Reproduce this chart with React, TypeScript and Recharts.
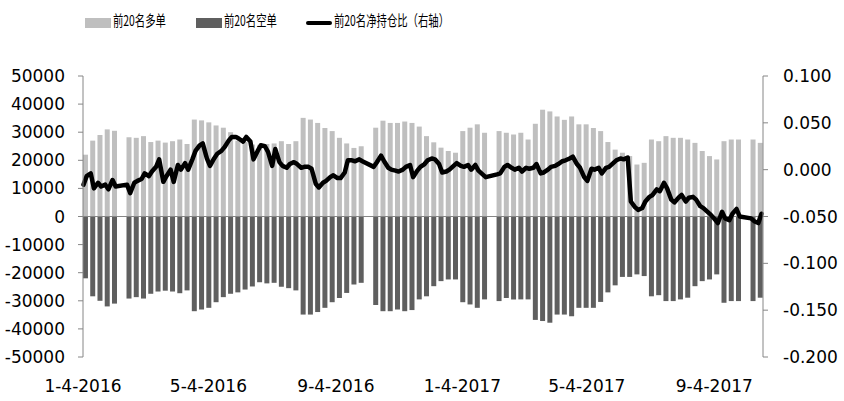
import { ComposedChart, Bar, Line, XAxis, YAxis, ReferenceLine } from 'recharts';

// weekly positions, week 0 starts 2016-01-04 (null = market closed that week)
const longPos = [
  22000, 27000, 29000, 31000, 30500, null, 28200, 28000, 28600, 26500,
  27000, 26300, 26800, 27400, 25800, 34500, 34200, 33500, 32400, 31600,
  30000, 27000, 26500, 25600, 25500, 25800, 26000, 26800, 25800, 26800,
  35100, 34500, 33300, 31500, 30400, 28000, 26000, 24400, 25000, null,
  31600, 34100, 33300, 33300, 33800, 33300, 32000, 28600, 26400, 24500,
  23300, 22700, 30400, 31600, 32800, 29800, null, 30400, 29800, 29200,
  29800, 27400, 33000, 38000, 37400, 35600, 34400, 35600, 32800, 32800,
  31500, 30400, 26500, 23800, 22700, 21500, 18500, 19100, 27400, 26800,
  28600, 28000, 28000, 27400, 26200, 23300, 21500, 20300, 26800, 27400,
  27400, null, 27400, 26200,
];

const shortNeg = [
  -22000, -28400, -30000, -32000, -31000, null, -29200, -28700, -29200, -27500,
  -26700, -26400, -26700, -27300, -26300, -33700, -33100, -32500, -30500, -28700,
  -27500, -27000, -26000, -24900, -23400, -23800, -23600, -25000, -25500, -26300,
  -34900, -34900, -34000, -32500, -30500, -29000, -27200, -24200, -23600, null,
  -31500, -33700, -33700, -33100, -33700, -33300, -29500, -28400, -24800, -23000,
  -22400, -22400, -30500, -31300, -32500, -29500, null, -30100, -29000, -29500,
  -29500, -29500, -36800, -37200, -37800, -34900, -34900, -35500, -32500, -32500,
  -32500, -30400, -27000, -24500, -21500, -21500, -20600, -21200, -28400, -28000,
  -30100, -30100, -29500, -28900, -24800, -23000, -22400, -20600, -30700, -30100,
  -30100, null, -30100, -28900,
];

// net ratio, two readings per week (Mon, Thu)
const netRatio = [
  -0.016, -0.007, -0.004, -0.020, -0.014, -0.018, -0.016, -0.021, -0.011, -0.018,
  null, null, -0.016, -0.025, -0.014, -0.012, -0.010, -0.004, -0.007, -0.002,
  0.003, 0.011, -0.013, -0.007, 0.000, -0.013, 0.005, 0.000, 0.007, 0.000,
  0.011, 0.020, 0.026, 0.028, 0.012, 0.004, 0.012, 0.017, 0.020, 0.024,
  0.031, 0.035, 0.035, 0.033, 0.030, 0.035, 0.030, 0.011, 0.020, 0.026,
  0.025, 0.019, 0.004, 0.022, 0.008, 0.004, 0.002, 0.006, 0.008, 0.006,
  0.002, 0.003, 0.003, 0.001, -0.015, -0.019, -0.014, -0.012, -0.008, -0.006,
  -0.009, -0.009, -0.003, 0.010, 0.010, 0.009, 0.011, 0.009, null, null,
  0.003, 0.008, 0.015, 0.009, 0.002, 0.000, -0.001, -0.002, 0.000, 0.003,
  0.005, -0.008, -0.001, 0.003, 0.006, 0.010, 0.012, 0.011, 0.006, -0.003,
  -0.002, 0.000, 0.004, 0.007, 0.004, 0.003, 0.005, 0.000, 0.005, -0.001,
  -0.005, -0.008, null, null, -0.005, -0.004, 0.003, 0.005, 0.002, 0.000,
  0.002, -0.002, 0.002, 0.001, 0.002, 0.006, -0.004, -0.003, 0.000, 0.003,
  0.004, 0.006, 0.009, 0.010, 0.012, 0.014, 0.006, 0.002, -0.008, -0.012,
  0.001, 0.000, 0.002, -0.004, 0.002, 0.003, 0.007, 0.010, 0.012, 0.011,
  0.013, -0.034, -0.040, -0.043, -0.041, -0.034, -0.029, -0.027, -0.021, -0.023,
  -0.014, -0.020, -0.032, -0.035, -0.030, -0.027, -0.034, -0.030, -0.029, -0.032,
  -0.039, -0.041, -0.045, -0.048, -0.053, -0.057, -0.045, -0.052, -0.054, -0.047,
  -0.042, -0.050, null, null, -0.052, -0.055, -0.057, -0.047,
];

// x axis is measured in days since 2016-01-04
const xTicks = [0, 121, 244, 366, 486, 609];
const xLabels = ['1-4-2016', '5-4-2016', '9-4-2016', '1-4-2017', '5-4-2017', '9-4-2017'];
const leftTicks = [-50000, -40000, -30000, -20000, -10000, 0, 10000, 20000, 30000, 40000, 50000];
const rightTicks = [-0.2, -0.15, -0.1, -0.05, 0, 0.05, 0.1];

const LONG_COLOR = '#BFBFBF';
const SHORT_COLOR = '#5F5F5F';
const AXIS_COLOR = '#868686';

const barRows = longPos
  .map((v, i) => ({ day: i * 7 + 2.5, long: v, short: shortNeg[i] }))
  .filter((r) => r.long !== null);

const lineRows = netRatio
  .map((v, i) => ({ day: Math.floor(i / 2) * 7 + (i % 2) * 3 + 0.5, ratio: v }))
  .filter((r) => r.ratio !== null);

const tickStyle = { fill: '#000', fontSize: 17, fontFamily: '"DejaVu Sans", sans-serif' };

const legendText: React.CSSProperties = {
  position: 'absolute',
  top: 9,
  lineHeight: '21px',
  fontSize: 15,
  fontFamily: '"Noto Sans CJK SC", sans-serif',
  color: '#000',
  whiteSpace: 'nowrap',
  transform: 'scaleX(0.69)',
  transformOrigin: 'left center',
};

function ChartLegend() {
  return (
    <>
      <div style={{ position: 'absolute', left: 85, top: 18, width: 26, height: 10, background: LONG_COLOR }} />
      <div style={{ ...legendText, left: 113 }}>前20名多单</div>
      <div style={{ position: 'absolute', left: 196, top: 18, width: 26, height: 10, background: SHORT_COLOR }} />
      <div style={{ ...legendText, left: 224 }}>前20名空单</div>
      <div style={{ position: 'absolute', left: 306, top: 21, width: 26, height: 4, background: '#000', borderRadius: 2 }} />
      <div style={{ ...legendText, left: 334 }}>前20名净持仓比（右轴）</div>
    </>
  );
}

export default function App() {
  return (
    <div style={{ position: 'absolute', left: 0, top: 0, width: 844, height: 401, background: '#fff' }}>
      <ChartLegend />
      <ComposedChart
        width={844}
        height={401}
        data={barRows}
        stackOffset="sign"
        margin={{ top: 76, right: 0, bottom: 14, left: 0 }}
      >
        <XAxis
          xAxisId="days"
          dataKey="day"
          type="number"
          domain={[0, 656]}
          ticks={xTicks}
          tickFormatter={(d) => xLabels[xTicks.indexOf(d)] ?? ''}
          axisLine={false}
          tickLine={false}
          tickSize={6}
          tickMargin={17}
          height={30}
          tick={tickStyle}
          interval={0}
        />
        <XAxis xAxisId="line" dataKey="day" type="number" domain={[0, 656]} hide />
        <YAxis
          yAxisId="left"
          domain={[-50000, 50000]}
          ticks={leftTicks}
          width={83}
          axisLine={{ stroke: AXIS_COLOR }}
          tickLine={{ stroke: AXIS_COLOR }}
          tickSize={5}
          tickMargin={13}
          tick={tickStyle}
          interval={0}
        />
        <YAxis
          yAxisId="right"
          orientation="right"
          domain={[-0.2, 0.1]}
          ticks={rightTicks}
          tickFormatter={(v) => Number(v).toFixed(3)}
          width={81}
          axisLine={{ stroke: AXIS_COLOR }}
          tickLine={{ stroke: AXIS_COLOR }}
          tickSize={5}
          tickMargin={15}
          tick={tickStyle}
          interval={0}
        />
        <Bar
          xAxisId="days"
          yAxisId="left"
          dataKey="long"
          stackId="pos"
          fill={LONG_COLOR}
          barSize={5}
          isAnimationActive={false}
        />
        <Bar
          xAxisId="days"
          yAxisId="left"
          dataKey="short"
          stackId="pos"
          fill={SHORT_COLOR}
          barSize={5}
          isAnimationActive={false}
        />
        <ReferenceLine xAxisId="days" yAxisId="left" y={0} stroke={AXIS_COLOR} strokeWidth={1} />
        <Line
          xAxisId="line"
          yAxisId="right"
          data={lineRows}
          dataKey="ratio"
          type="linear"
          stroke="#000"
          strokeWidth={4.5}
          strokeLinejoin="round"
          strokeLinecap="round"
          dot={false}
          activeDot={false}
          isAnimationActive={false}
        />
      </ComposedChart>
    </div>
  );
}
